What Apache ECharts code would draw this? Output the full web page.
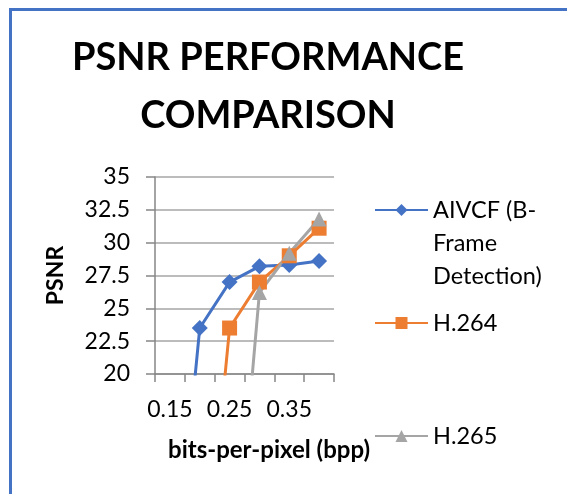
<!DOCTYPE html>
<html>
<head>
<meta charset="utf-8">
<script src="https://cdn.jsdelivr.net/npm/echarts@6/dist/echarts.min.js"></script>
<style>html,body{margin:0;padding:0;background:#fff}#c{width:567px;height:494px}</style>
</head>
<body>
<div id="c"></div>
<script>
const categories = ['0.15', '0.2', '0.25', '0.3', '0.35', '0.4'];
const aivcf = [0, 23.5, 27, 28.2, 28.3, 28.6];
const h264 = [0, 0, 23.5, 27, 29, 31.1];
const h265 = [0, 0, 0, 26.2, 29.2, 31.8];
const seriesNames = ['AIVCF (B-Frame Detection)', 'H.264', 'H.265'];
const titleText = 'PSNR PERFORMANCE\nCOMPARISON';
const xName = 'bits-per-pixel (bpp)';
const yName = 'PSNR';

const FONT = 'Lato';
const chart = echarts.init(document.getElementById('c'), null, {renderer: 'canvas'});
const legendText = {fontFamily: FONT, fontSize: 23.5, lineHeight: 33, color: '#000'};
const legendBase = {orient: 'vertical', left: 374, padding: 0, itemWidth: 53, itemHeight: 15, itemGap: 0, textStyle: legendText};
chart.setOption({
  animation: false,
  backgroundColor: '#fff',
  graphic: [{
    type: 'rect', silent: true, z: -1,
    shape: {x: 10.5, y: 9.5, width: 700, height: 700},
    style: {fill: 'none', stroke: '#4472C4', lineWidth: 3}
  }],
  title: {
    text: titleText,
    left: 263, top: 24,
    textAlign: 'center',
    textStyle: {fontFamily: FONT, fontWeight: 'bold', fontSize: 38, lineHeight: 58, color: '#000'}
  },
  grid: {left: 155, right: 233, top: 177, bottom: 120},
  legend: [
    Object.assign({}, legendBase, {data: [seriesNames[0]], top: 127.5,
      formatter: () => '\n\nAIVCF (B-\nFrame\nDetection)'}),
    Object.assign({}, legendBase, {data: [seriesNames[1]], top: 306.5}),
    Object.assign({}, legendBase, {data: [seriesNames[2]], top: 419.5})
  ],
  xAxis: {
    type: 'category', data: categories, boundaryGap: true,
    name: xName, nameLocation: 'middle', nameGap: 64,
    nameTextStyle: {fontFamily: FONT, fontWeight: 'bold', fontSize: 24, color: '#000', padding: [0, 0, 0, 49]},
    axisLine: {lineStyle: {color: '#868686', width: 1.5}},
    axisTick: {show: true, interval: 0, length: 8, lineStyle: {color: '#868686', width: 1.5}},
    axisLabel: {interval: 1, margin: 24, fontFamily: FONT, fontSize: 23, color: '#000'},
    splitLine: {show: false}
  },
  yAxis: {
    type: 'value', min: 20, max: 35, interval: 2.5,
    name: yName, nameLocation: 'middle', nameGap: 88, nameRotate: 90,
    nameTextStyle: {fontFamily: FONT, fontWeight: 'bold', fontSize: 23, color: '#000'},
    axisLine: {show: true, lineStyle: {color: '#868686', width: 1.5}},
    axisTick: {show: true, length: 9, lineStyle: {color: '#868686', width: 1.5}},
    axisLabel: {margin: 25, fontFamily: FONT, fontSize: 23, color: '#000'},
    splitLine: {show: true, lineStyle: {color: '#a6a6a6', width: 1.5}}
  },
  series: [
    {name: seriesNames[0], type: 'line', data: aivcf, clip: true, symbol: 'diamond', symbolSize: 16,
     itemStyle: {color: '#4472C4'}, lineStyle: {color: '#4472C4', width: 3}},
    {name: seriesNames[1], type: 'line', data: h264, clip: true, symbol: 'rect', symbolSize: 15,
     itemStyle: {color: '#ED7D31'}, lineStyle: {color: '#ED7D31', width: 3}},
    {name: seriesNames[2], type: 'line', data: h265, clip: true, symbol: 'triangle', symbolSize: 15,
     itemStyle: {color: '#A5A5A5'}, lineStyle: {color: '#A5A5A5', width: 3}}
  ]
});
</script>
</body>
</html>
